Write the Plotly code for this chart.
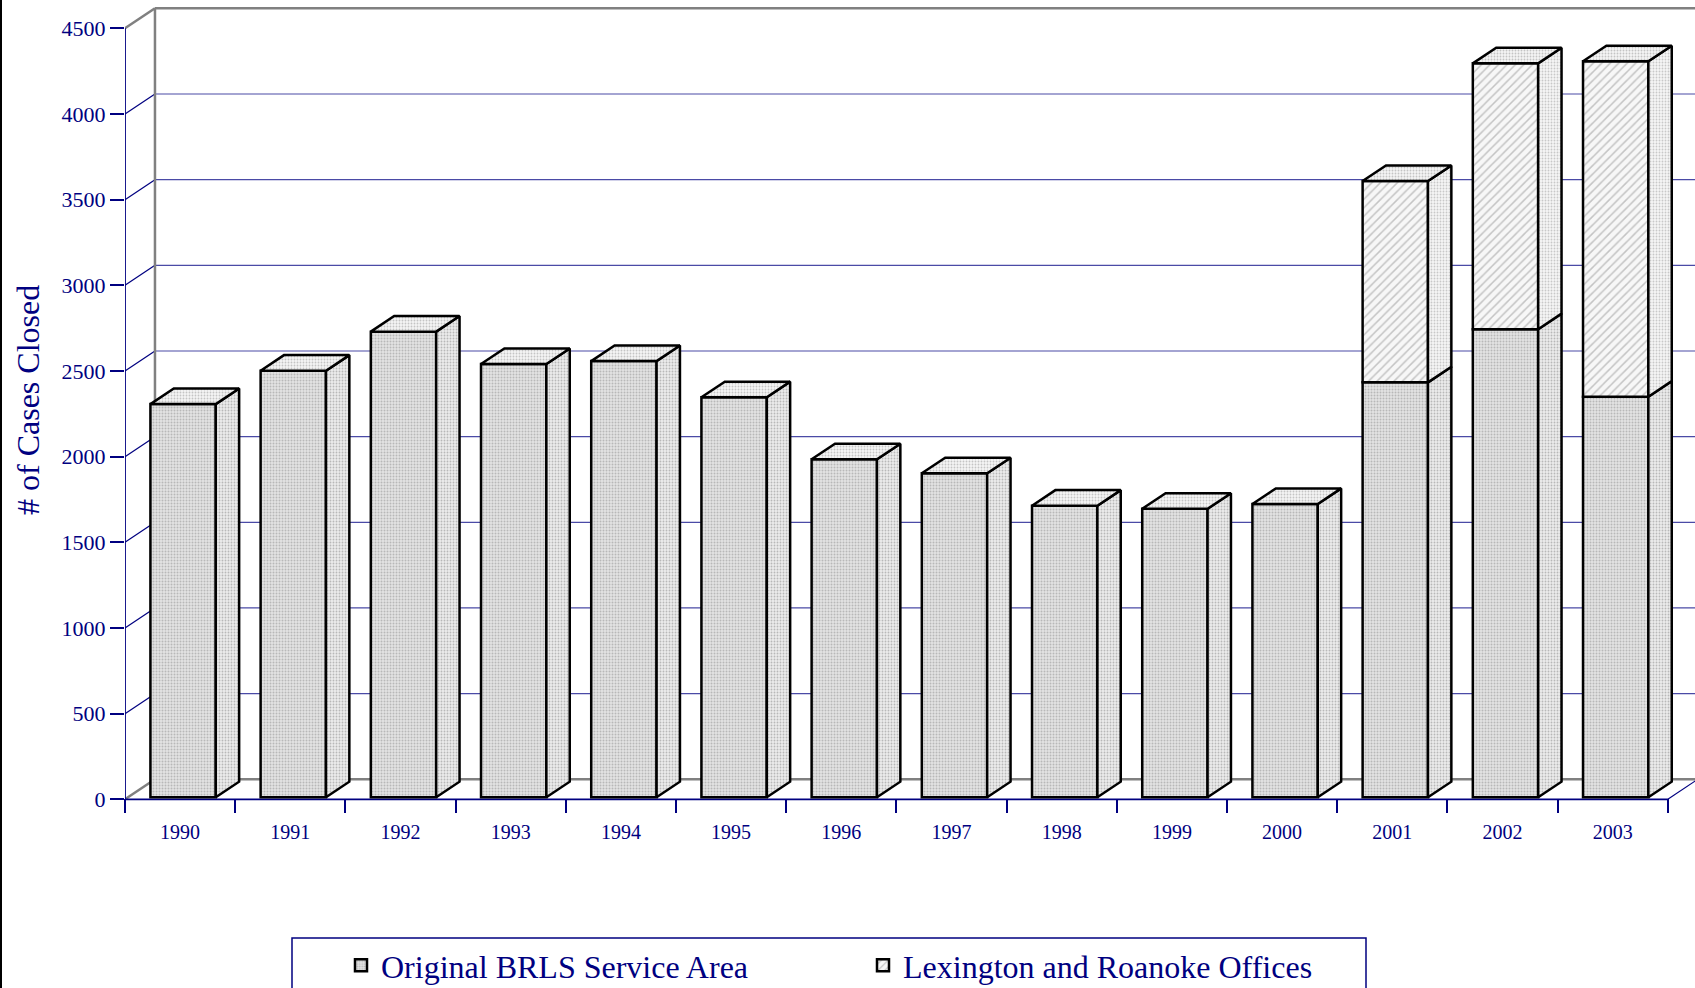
import plotly.graph_objects as go

# ---------------- data ----------------
years = ["1990", "1991", "1992", "1993", "1994", "1995", "1996",
         "1997", "1998", "1999", "2000", "2001", "2002", "2003"]
original_brls = [2295, 2490, 2718, 2529, 2546, 2335, 1973,
                 1891, 1702, 1684, 1712, 2422, 2732, 2338]
lexington_roanoke = [0, 0, 0, 0, 0, 0, 0,
                     0, 0, 0, 0, 1175, 1552, 1958]
y_ticks = [0, 500, 1000, 1500, 2000, 2500, 3000, 3500, 4000, 4500]
series_names = ["Original BRLS Service Area", "Lexington and Roanoke Offices"]

# ---------------- style / geometry ----------------
NAVY = "#000080"
GRAY = "#808080"
FONT = "Liberation Serif"
DEPTH_U = 0.272      # wall depth in category units (30 px)
DEPTH_V = 116.7      # wall depth in value units (20 px)
D0, D1 = 0.10, 0.88  # bar front / back depth fractions
BAR_W = 0.593
n = len(years)
XMAX = 1570 / 110.2
YMIN, YMAX = -80, 4642

fig = go.Figure()

# bar fronts (real bar traces, drawn through axes)
fx0 = D0 * DEPTH_U
fy0 = D0 * DEPTH_V
xs = [i + 0.5 + fx0 for i in range(n)]
fig.add_trace(go.Bar(
    x=xs, y=original_brls, base=[fy0] * n, width=BAR_W,
    name=series_names[0],
    marker=dict(color="#e2e2e2", line=dict(color="black", width=2.5),
                pattern=dict(shape=".", bgcolor="#e4e4e4", fgcolor="#b8b8b8",
                             size=3, solidity=0.35, fillmode="replace")),
    hoverinfo="skip"))
lex_idx = [i for i in range(n) if lexington_roanoke[i] > 0]
fig.add_trace(go.Bar(
    x=[xs[i] for i in lex_idx], y=[lexington_roanoke[i] for i in lex_idx],
    base=[fy0 + original_brls[i] for i in lex_idx], width=BAR_W,
    name=series_names[1],
    marker=dict(color="#f2f2f2", line=dict(color="black", width=2.5),
                pattern=dict(shape="/", bgcolor="#f7f7f7", fgcolor="#c4c4c4",
                             size=6, solidity=0.25, fillmode="replace")),
    hoverinfo="skip"))

# side and top faces
dU = (D1 - D0) * DEPTH_U
dV = (D1 - D0) * DEPTH_V


def side_poly(i, v0, v1):
    xr = xs[i] + BAR_W / 2
    return ([xr, xr + dU, xr + dU, xr, xr, None],
            [v0 + fy0, v0 + fy0 + dV, v1 + fy0 + dV, v1 + fy0, v0 + fy0, None])


sx, sy = [], []
for i in range(n):
    a, b = side_poly(i, 0, original_brls[i])
    sx += a
    sy += b
lx, ly = [], []
for i in lex_idx:
    a, b = side_poly(i, original_brls[i], original_brls[i] + lexington_roanoke[i])
    lx += a
    ly += b
tx, ty = [], []
for i in range(n):
    top = original_brls[i] + lexington_roanoke[i] + fy0
    xl = xs[i] - BAR_W / 2
    xr = xs[i] + BAR_W / 2
    tx += [xl, xr, xr + dU, xl + dU, xl, None]
    ty += [top, top, top + dV, top + dV, top, None]

for px_, py_, bg, fg in [(sx, sy, "#ececec", "#b8b8b8"),
                         (lx, ly, "#f6f6f6", "#c8c8c8"),
                         (tx, ty, "#f5f5f5", "#c4c4c4")]:
    fig.add_trace(go.Scatter(
        x=px_, y=py_, mode="lines", fill="toself", fillcolor=bg,
        fillpattern=dict(shape=".", bgcolor=bg, fgcolor=fg, size=3,
                         solidity=0.3, fillmode="replace"),
        line=dict(color="black", width=2.5), showlegend=False,
        hoverinfo="skip"))

# ---------------- walls & gridlines (shapes, below traces) ----------------
shapes = []


def seg(x0, y0, x1, y1, color, width):
    shapes.append(dict(type="line", xref="x", yref="y", x0=x0, y0=y0,
                       x1=x1, y1=y1, layer="below",
                       line=dict(color=color, width=width)))


for v in y_ticks[1:-1]:
    seg(DEPTH_U, v + DEPTH_V, XMAX + 1, v + DEPTH_V, "#4a4aa6", 1.2)
    seg(0, v, DEPTH_U, v + DEPTH_V, NAVY, 1.2)
top = y_ticks[-1]
seg(DEPTH_U, DEPTH_V, XMAX + 1, DEPTH_V, GRAY, 2.5)
seg(0, 0, DEPTH_U, DEPTH_V, GRAY, 2.5)
seg(DEPTH_U, DEPTH_V, DEPTH_U, top + DEPTH_V, GRAY, 2.5)
seg(DEPTH_U, top + DEPTH_V, XMAX + 1, top + DEPTH_V, GRAY, 2.5)
seg(0, top, DEPTH_U, top + DEPTH_V, GRAY, 2.5)
# front axes
seg(0, 0, 0, top, NAVY, 1.8)
seg(0, 0, n, 0, NAVY, 1.8)
seg(n, 0, n + DEPTH_U, DEPTH_V, NAVY, 1.2)
# outer left frame line
shapes.append(dict(type="line", xref="paper", yref="paper",
                   x0=-124 / 1570, x1=-124 / 1570, y0=-0.3, y1=1.1,
                   line=dict(color="black", width=2)))
# legend frame
shapes.append(dict(type="rect", xref="paper", yref="paper",
                   x0=(292 - 125) / 1570, x1=(1366 - 125) / 1570,
                   y0=(813 - 1000) / 809, y1=(813 - 938) / 809,
                   line=dict(color=NAVY, width=1.5), fillcolor="rgba(0,0,0,0)"))

fig.update_layout(
    width=1695, height=988,
    margin=dict(l=125, r=0, t=4, b=175, autoexpand=False),
    paper_bgcolor="white", plot_bgcolor="white",
    barmode="overlay",
    shapes=shapes,
    font=dict(family=FONT, color=NAVY),
    xaxis=dict(range=[0, XMAX], showgrid=False, zeroline=False, showline=False,
               tickmode="array", tickvals=[i + 0.5 for i in range(n)],
               ticktext=years, ticks="", tickfont=dict(size=20, color=NAVY),
               ticklabelstandoff=5,
               minor=dict(tickmode="array", tickvals=list(range(n + 1)),
                          ticks="inside", ticklen=14, tickcolor=NAVY,
                          tickwidth=1.5, showgrid=False),
               fixedrange=True),
    yaxis=dict(range=[YMIN, YMAX], showgrid=False, zeroline=False,
               showline=False, tickmode="array", tickvals=y_ticks,
               ticktext=[str(v) for v in y_ticks], ticks="outside",
               ticklen=14, tickcolor=NAVY, tickwidth=1.5,
               tickfont=dict(size=22, color=NAVY), fixedrange=True),
    legend=dict(orientation="h", x=(292 - 125) / 1570, xanchor="left",
                y=(813 - 938) / 809, yanchor="top",
                borderwidth=0, bgcolor="rgba(0,0,0,0)",
                font=dict(family=FONT, size=32, color=NAVY),
                entrywidth=428, entrywidthmode="pixels", indentation=49),
    annotations=[dict(text="# of Cases Closed", xref="paper", yref="paper",
                      x=(28 - 125) / 1570, y=(813 - 400) / 809,
                      xanchor="center", yanchor="middle",
                      textangle=-90, showarrow=False,
                      font=dict(family=FONT, size=32, color=NAVY))],
)

fig.write_html("out.html", config={"displayModeBar": False},
               post_script="document.body.style.margin='0';"
                           "document.body.style.padding='0';")
